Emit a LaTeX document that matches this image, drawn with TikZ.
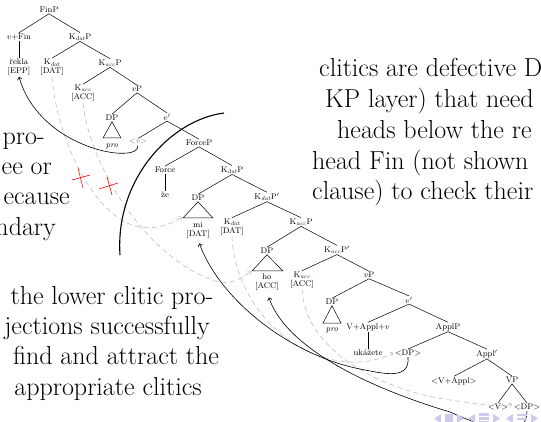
\documentclass[tikz,border=0pt]{standalone}
\usepackage{fontspec}
\usetikzlibrary{arrows.meta}
\definecolor{dashgray}{gray}{0.72}
\definecolor{navc}{RGB}{210,200,238}
\begin{document}
\begin{tikzpicture}[x=1pt,y=-1pt,
  tn/.style={font=\fontsize{8.2}{9}\selectfont, inner sep=0.8pt, align=center},
  br/.style={line width=0.5pt},
  big/.style={font=\fontsize{26}{30}\selectfont, inner sep=0pt},
  probe/.style={draw=dashgray, line width=0.55pt, dash pattern=on 5pt off 3.5pt, -{To[length=3pt,width=5pt]}},
  mv/.style={draw=black, line width=0.6pt, -{To[length=3pt,width=5pt]}},
  arcline/.style={line width=1.1pt},
  xmark/.style={draw=red, line width=0.6pt},
  navsym/.style={fill=navc, draw=none},
]
\useasboundingbox (0,0) rectangle (541,422);
\clip (0,0) rectangle (541,422);

% ---------- tree nodes ----------
\node[tn] (FinP)   at (49,10)    {FinP};
\node[tn] (vFin)   at (19,37)    {$v$+Fin};
\node[tn] (KdatP1) at (80,37)    {K$_{\mathit{dat}}$P};
\node[tn] (rekla)  at (19,67.5)  {řekla\\{[EPP]}};
\node[tn] (Kdat1)  at (52,67.5)  {K$_{\mathit{dat}}$\\{[DAT]}};
\node[tn] (KaccP1) at (110,63)   {K$_{\mathit{acc}}$P};
\node[tn] (Kacc1)  at (83,93.5)  {K$_{\mathit{acc}}$\\{[ACC]}};
\node[tn] (vP1)    at (137,89)   {$v$P};
\node[tn] (DP1)    at (112,118)  {DP};
\node[tn] (pro1)   at (112,146)  {\textit{pro}};
\node[tn] (vbar1)  at (167,117)  {$v'$};
\node[tn,text=gray] (vtrace) at (138,142) {$<$$v$$>$};
\node[tn] (ForceP) at (199,143)  {ForceP};
\node[tn] (Force)  at (165,170)  {Force};
\node[tn] (ze)     at (165,195)  {že};
\node[tn] (KdatP2) at (232,170)  {K$_{\mathit{dat}}$P};
\node[tn] (DP2)    at (198,198)  {DP};
\node[tn] (mi)     at (198,230.5){mi\\{[DAT]}};
\node[tn] (KdatPb) at (267,197)  {K$_{\mathit{dat}}$P$'$};
\node[tn] (Kdat2)  at (232,227)  {K$_{\mathit{dat}}$\\{[DAT]}};
\node[tn] (KaccP2) at (301,222)  {K$_{\mathit{acc}}$P};
\node[tn] (DP3)    at (267,251)  {DP};
\node[tn] (ho)     at (267,282.5){ho\\{[ACC]}};
\node[tn] (KaccPb) at (337,250)  {K$_{\mathit{acc}}$P$'$};
\node[tn] (Kacc2)  at (302,280)  {K$_{\mathit{acc}}$\\{[ACC]}};
\node[tn] (vP2)    at (369,275)  {$v$P};
\node[tn] (DP4)    at (332,302)  {DP};
\node[tn] (pro2)   at (332,330)  {\textit{pro}};
\node[tn] (vbar2)  at (409,300)  {$v'$};
\node[tn] (VApplv) at (368,327)  {V+Appl+$v$};
\node[tn] (ukazete) at (368,353) {ukážete};
\node[tn] (ApplP)  at (448,327)  {ApplP};
\node[tn] (DPtr1)  at (408,353)  {$<$DP$>$};
\node[tn] (Applbar) at (487,354) {Appl$'$};
\node[tn] (VAppltr) at (454,381) {$<$V+Appl$>$};
\node[tn] (VP)     at (512,380)  {VP};
\node[tn] (Vtr)    at (498,407)  {$<$V$>$};
\node[tn] (DPtr2)  at (527,407)  {$<$DP$>$};

% ---------- tree branches ----------
\foreach \a/\b in {FinP/vFin, FinP/KdatP1, vFin/rekla, KdatP1/Kdat1, KdatP1/KaccP1,
  KaccP1/Kacc1, KaccP1/vP1, vP1/DP1, vP1/vbar1, vbar1/vtrace, vbar1/ForceP,
  ForceP/Force, ForceP/KdatP2, Force/ze, KdatP2/DP2, KdatP2/KdatPb,
  KdatPb/Kdat2, KdatPb/KaccP2, KaccP2/DP3, KaccP2/KaccPb, KaccPb/Kacc2, KaccPb/vP2,
  vP2/DP4, vP2/vbar2, vbar2/VApplv, vbar2/ApplP, VApplv/ukazete, ApplP/DPtr1,
  ApplP/Applbar, Applbar/VAppltr, Applbar/VP, VP/Vtr, VP/DPtr2}
  \draw[br] (\a.south) -- (\b.north);

% triangles
\draw[br] (DP1.south) -- (103,138) -- (121,138) -- cycle;
\draw[br] (DP2.south) -- (183,218) -- (213,218) -- cycle;
\draw[br] (DP3.south) -- (252,271) -- (283,271) -- cycle;
\draw[br] (DP4.south) -- (323,323) -- (341,323) -- cycle;

\coordinate (miL) at (182,217);
\coordinate (hoL) at (251,271);
\coordinate (dpL) at (393,353);
\coordinate (dp2L) at (512,404);

% ---------- probing (dashed gray) ----------
\draw[probe] (Kdat1.south) .. controls (56,130) and (85,200) .. (125,222)
   .. controls (145,232) and (165,228) .. (miL);
\draw[probe] (Kacc1.south) .. controls (90,170) and (150,260) .. (215,281)
   .. controls (230,285) and (240,280) .. (hoL);
\draw[probe] (Kdat2.south) .. controls (234,300) and (290,365) .. (360,362)
   .. controls (375,361) and (385,357) .. (dpL);
\draw[probe] (Kacc2.south) .. controls (305,350) and (380,390) .. (450,400)
   .. controls (480,404) and (500,408) .. (dp2L);

% red crosses
\draw[xmark] (72,180) -- (90,175);
\draw[xmark] (78,168) -- (83,188);
\draw[xmark] (99,189) -- (118,183);
\draw[xmark] (107,177) -- (112,195);

% ---------- movement (black) ----------
\draw[mv] (vtrace.south) .. controls (140,165) and (40,150) .. (rekla.south);
\draw[mv, shorten >=4pt] (DPtr1.south) .. controls (410,380) and (385,374) .. (360,369)
   .. controls (290,355) and (220,300) .. (mi.south);
\draw[mv, shorten >=6pt] (DPtr2.south) .. controls (527,440) and (490,430) .. (450,412)
   .. controls (360,385) and (285,345) .. (ho.south);

% phase boundary arc
\draw[arcline] (224,113) .. controls (170,120) and (115,180) .. (120,255);

% ---------- prose ----------
\node[big, anchor=base west] (r1) at (319,77)  {clitics are defective D};
\node[big, anchor=base west] (r2) at (325,108) {KP layer) that need};
\node[big, anchor=base west] (r3) at (337,139) {heads below the re};
\node[big, anchor=base west] (r4) at (312,170) {head Fin (not shown};
\node[big, anchor=base west] (r5) at (312,200) {clause) to check their};

\node[big, anchor=base east] (l1) at (45,145) {pro-};
\node[big, anchor=base east] (l2) at (52,175) {ee or};
\node[big, anchor=base east] (l3) at (70,205) {ecause};
\node[big, anchor=base east] (l4) at (56,236) {ndary};

\node[big, anchor=base] (b1) at (112,304) {the lower clitic pro-};
\node[big, anchor=base] (b2) at (107,334) {jections successfully};
\node[big, anchor=base] (b3) at (116,364) {find and attract the};
\node[big, anchor=base] (b4) at (108,395) {appropriate clitics};

% ---------- navigation symbols (cut off) ----------
\fill[navsym] (441,414) -- (434,418.5) -- (441,423) -- cycle;
\fill[navsym] (445,414) rectangle (453,424);
\fill[navsym] (457,414) -- (464,418.5) -- (457,423) -- cycle;
\fill[navsym] (475,414) -- (468,418.5) -- (475,423) -- cycle;
\fill[navsym] (479,413) rectangle (489,415.5);
\fill[navsym] (479,417) rectangle (489,419.5);
\fill[navsym] (479,421) rectangle (489,424);
\fill[navsym] (493,414) -- (500,418.5) -- (493,423) -- cycle;
\fill[navsym] (513,414) -- (506,418.5) -- (513,423) -- cycle;
\fill[navsym] (517,414) rectangle (527,416);
\fill[navsym] (517,418) rectangle (527,420);
\fill[navsym] (531,414) -- (538,418.5) -- (531,423) -- cycle;
\end{tikzpicture}
\end{document}
